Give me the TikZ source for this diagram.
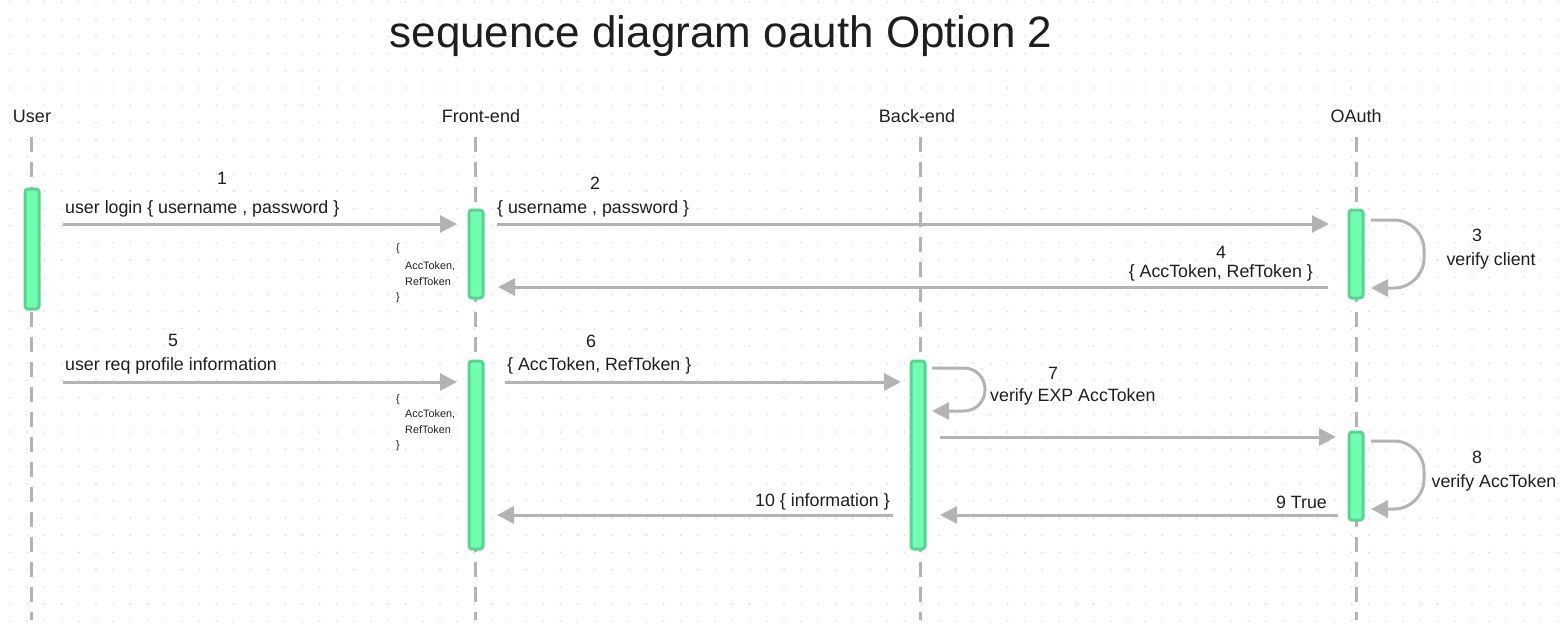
\documentclass[tikz,border=0pt]{standalone}
\usepackage{fontspec}
\setmainfont{Liberation Sans}
\usetikzlibrary{arrows.meta}
\definecolor{linegray}{RGB}{179,179,179}
\definecolor{barfill}{RGB}{112,255,176}
\definecolor{bardraw}{RGB}{88,212,146}
\definecolor{dotc}{RGB}{215,215,215}
\definecolor{txt}{RGB}{30,30,30}
\tikzset{
  lifehead/.style={font=\fontsize{18}{20}\selectfont, text=txt, inner sep=0pt},
  lifeline/.style={draw=linegray, line width=3pt, dash pattern=on 15pt off 10pt},
  actbar/.style={draw=bardraw, fill=barfill, line width=3pt, rounded corners=3pt, minimum width=14pt, inner sep=0pt},
  msg/.style={draw=linegray, line width=3pt, -{Triangle[length=17pt,width=17pt]}},
  loopmsg/.style={msg, rounded corners=#1},
  lbl/.style={font=\fontsize{17.8}{20}\selectfont, text=txt, inner sep=0pt},
  tiny/.style={font=\fontsize{10.8}{12}\selectfont, text=txt, inner sep=0pt, anchor=west},
}
\begin{document}
\begin{tikzpicture}[x=1pt,y=-1pt]
\useasboundingbox (0,0) rectangle (1565,635);
\fill[white] (0,0) rectangle (1565,635);
\foreach \i in {0,...,90}{\foreach \j in {0,...,36}{\fill[dotc] (10+\i*17.2,2+\j*17.2) circle (0.9);}}
% title
\node[font=\fontsize{44}{50}\selectfont, text=txt, inner sep=0pt] (title) at (721,36) {sequence diagram oauth Option 2};
% lifeline heads
\node[lifehead] (huser) at (32,116) {User};
\node[lifehead] (hfe) at (481,116) {Front-end};
\node[lifehead] (hbe) at (917,116) {Back-end};
\node[lifehead] (hoa) at (1356,116) {OAuth};
\coordinate (euser) at (31,620);
\coordinate (efe) at (475,620);
\coordinate (ebe) at (920,620);
\coordinate (eoa) at (1356,620);
\coordinate (suser) at (31,137);
\coordinate (sfe) at (475,137);
\coordinate (sbe) at (920,137);
\coordinate (soa) at (1356,137);
\draw[lifeline] (suser) -- (euser);
\draw[lifeline] (sfe) -- (efe);
\draw[lifeline] (sbe) -- (ebe);
\draw[lifeline] (soa) -- (eoa);
% activation bars
\node[actbar, minimum height=120pt] (auser) at (32,249) {};
\node[actbar, minimum height=88pt] (afe1) at (476,254) {};
\node[actbar, minimum height=88pt] (aoa1) at (1356,254) {};
\node[actbar, minimum height=188pt] (afe2) at (476,455) {};
\node[actbar, minimum height=188pt] (abe) at (918,455) {};
\node[actbar, minimum height=88pt] (aoa2) at (1356,476) {};
% message endpoints
\coordinate (m1s) at (63,224); \coordinate (m1e) at (457,224);
\coordinate (m2s) at (497,224); \coordinate (m2e) at (1329,224);
\coordinate (m3s) at (1371,220); \coordinate (m3c1) at (1424,220); \coordinate (m3c2) at (1424,288); \coordinate (m3e) at (1371,288);
\coordinate (m4s) at (1328,287); \coordinate (m4e) at (498,287);
\coordinate (m5s) at (63,382); \coordinate (m5e) at (457,382);
\coordinate (m6s) at (505,382); \coordinate (m6e) at (901,382);
\coordinate (m7s) at (932,368); \coordinate (m7c1) at (985,368); \coordinate (m7c2) at (985,411); \coordinate (m7e) at (932,411);
\coordinate (mxs) at (940,437); \coordinate (mxe) at (1336,437);
\coordinate (m8s) at (1371,441); \coordinate (m8c1) at (1424,441); \coordinate (m8c2) at (1424,509); \coordinate (m8e) at (1371,509);
\coordinate (m9s) at (1338,515); \coordinate (m9e) at (940,515);
\coordinate (m10s) at (893,515); \coordinate (m10e) at (497,515);
% messages
\draw[msg] (m1s) -- (m1e);
\draw[msg] (m2s) -- (m2e);
\draw[loopmsg=30pt] (m3s) -- (m3c1) -- (m3c2) -- (m3e);
\draw[msg] (m4s) -- (m4e);
\draw[msg] (m5s) -- (m5e);
\draw[msg] (m6s) -- (m6e);
\draw[loopmsg=21pt] (m7s) -- (m7c1) -- (m7c2) -- (m7e);
\draw[msg] (mxs) -- (mxe);
\draw[loopmsg=30pt] (m8s) -- (m8c1) -- (m8c2) -- (m8e);
\draw[msg] (m9s) -- (m9e);
\draw[msg] (m10s) -- (m10e);
% labels
\node[lbl] (n1) at (222,178) {1};
\node[lbl, anchor=west] (l1) at (65,209) {user login \{ username , password \}};
\node[lbl] (n2) at (595,183) {2};
\node[lbl, anchor=west] (l2) at (497,209) {\{ username , password \}};
\node[lbl] (n3) at (1477,235) {3};
\node[lbl] (l3) at (1491,261) {verify client};
\node[lbl] (n4) at (1221,252) {4};
\node[lbl, anchor=east] (l4) at (1313,273) {\{ AccToken, RefToken \}};
\node[lbl] (n5) at (173,340) {5};
\node[lbl, anchor=west] (l5) at (65,366) {user req profile information};
\node[lbl] (n6) at (591,341) {6};
\node[lbl, anchor=west] (l6) at (507,366) {\{ AccToken, RefToken \}};
\node[lbl] (n7) at (1053,373) {7};
\node[lbl, anchor=west] (l7) at (990,397) {verify EXP AccToken};
\node[lbl] (n8) at (1477,457) {8};
\node[lbl] (l8) at (1494,483) {verify AccToken};
\node[lbl, anchor=east] (l9) at (1327,502) {9 True};
\node[lbl, anchor=east] (l10) at (890,502) {10 \{ information \}};
% small token notes
\node[tiny] (t1a) at (396,249) {\{};
\node[tiny] (t1b) at (405,266) {AccToken,};
\node[tiny] (t1c) at (405,282) {RefToken};
\node[tiny] (t1d) at (396,298) {\}};
\node[tiny] (t2a) at (396,400) {\{};
\node[tiny] (t2b) at (405,414) {AccToken,};
\node[tiny] (t2c) at (405,430) {RefToken};
\node[tiny] (t2d) at (396,446) {\}};
\end{tikzpicture}
\end{document}
